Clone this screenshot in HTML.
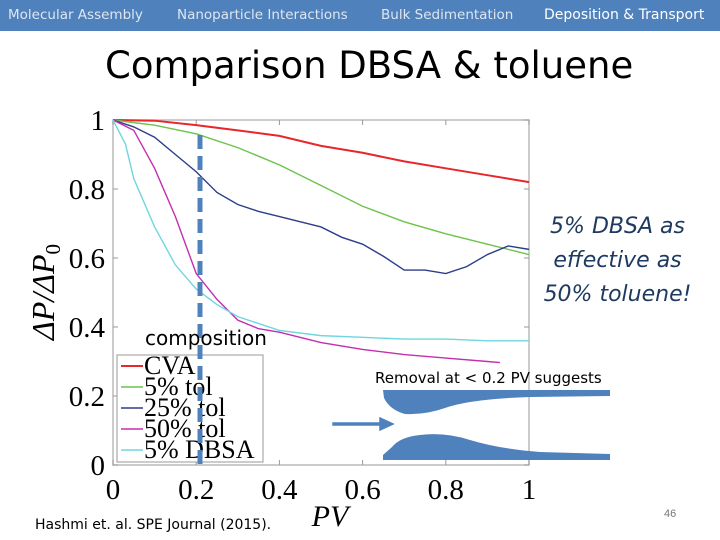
<!DOCTYPE html>
<html><head><meta charset="utf-8"><style>
body{margin:0;width:720px;height:540px;background:#fff;overflow:hidden;position:relative;font-family:"Liberation Sans",sans-serif}
.nav{position:absolute;left:0;top:0;width:720px;height:31px;background:#4f81bd}
.nav span{position:absolute;top:7px;font-size:14px;color:#dfe6f0;font-family:"DejaVu Sans","Liberation Sans",sans-serif}
</style></head><body>
<div class="nav">
<span style="left:8px;font-size:13.5px">Molecular Assembly</span>
<span style="left:177px;font-size:13.5px">Nanoparticle Interactions</span>
<span style="left:381px;font-size:13.5px">Bulk Sedimentation</span>
<span style="left:544px;color:#fff">Deposition &amp; Transport</span>
</div>
<div style="position:absolute;left:105px;top:44px;font-size:37px;color:#000;font-family:'DejaVu Sans','Liberation Sans',sans-serif">Comparison DBSA &amp; toluene</div>
<svg id="chart" width="720" height="540" style="position:absolute;left:0;top:0"></svg>
<div style="position:absolute;left:530px;top:210px;width:175px;text-align:center;font-size:22px;line-height:34px;font-style:italic;color:#1f3a60;font-family:'DejaVu Sans','Liberation Sans',sans-serif">5% DBSA as effective as 50% toluene!</div>
<div style="position:absolute;left:35px;top:517px;font-size:14px;font-family:'DejaVu Sans','Liberation Sans',sans-serif">Hashmi et. al. SPE Journal (2015).</div>
<div style="position:absolute;left:664px;top:508px;font-size:11px;color:#777">46</div>
<script>
const xTicks=[0,0.2,0.4,0.6,0.8,1];
const yTicks=[0,0.2,0.4,0.6,0.8,1];
const xTickLabels=["0","0.2","0.4","0.6","0.8","1"];
const yTickLabels=["0","0.2","0.4","0.6","0.8","1"];
const seriesNames=["CVA","5% tol","25% tol","50% tol","5% DBSA"];
const cvaX=[0,0.1,0.2,0.3,0.4,0.5,0.6,0.7,0.8,0.9,1];
const cvaY=[1,0.998,0.985,0.97,0.954,0.925,0.905,0.88,0.86,0.84,0.82];
const tol5X=[0,0.1,0.2,0.3,0.4,0.5,0.6,0.7,0.8,0.9,1];
const tol5Y=[1,0.985,0.96,0.92,0.87,0.81,0.75,0.705,0.67,0.64,0.61];
const tol25X=[0,0.05,0.1,0.15,0.2,0.25,0.3,0.35,0.4,0.5,0.55,0.6,0.65,0.7,0.75,0.8,0.85,0.9,0.95,1];
const tol25Y=[1,0.98,0.95,0.9,0.85,0.79,0.755,0.735,0.72,0.69,0.66,0.64,0.605,0.565,0.565,0.555,0.575,0.61,0.635,0.625];
const tol50X=[0,0.05,0.1,0.15,0.2,0.25,0.3,0.35,0.4,0.5,0.6,0.7,0.8,0.9,0.93];
const tol50Y=[1,0.97,0.86,0.72,0.555,0.48,0.42,0.395,0.385,0.355,0.335,0.32,0.31,0.3,0.297];
const dbsaX=[0,0.03,0.05,0.1,0.15,0.2,0.25,0.3,0.4,0.5,0.6,0.7,0.8,0.9,1];
const dbsaY=[1,0.93,0.83,0.69,0.58,0.51,0.465,0.43,0.39,0.375,0.37,0.365,0.365,0.36,0.36];
const colors=["#e8262b","#6cc34a","#2e3d8a","#c42eb0","#6fd6e0"];
const L=113,R=529,T=120,B=465;
const sx=v=>L+v*(R-L), sy=v=>B-v*(B-T);
const svg=document.getElementById('chart');
const NS="http://www.w3.org/2000/svg";
function mk(tag,at){const e=document.createElementNS(NS,tag);for(const k in at)e.setAttribute(k,at[k]);svg.appendChild(e);return e;}
let fr=mk('rect',{x:L,y:T,width:R-L,height:B-T,fill:'none',stroke:'#bbb','stroke-width':1.5});


xTicks.forEach((v,i)=>{
 mk('line',{x1:sx(v),x2:sx(v),y1:B,y2:B-5,stroke:'#999'});
 mk('line',{x1:sx(v),x2:sx(v),y1:T,y2:T+5,stroke:'#999'});
 const t=mk('text',{x:sx(v),y:B+34,'text-anchor':'middle','font-size':29,'font-family':'Liberation Serif,serif'});
 t.textContent=xTickLabels[i];
 
 
});
yTicks.forEach((v,i)=>{
 mk('line',{x1:L,x2:L+5,y1:sy(v),y2:sy(v),stroke:'#999'});
 mk('line',{x1:R,x2:R-5,y1:sy(v),y2:sy(v),stroke:'#999'});
 const t=mk('text',{x:L-8,y:sy(v)+10,'text-anchor':'end','font-size':29,'font-family':'Liberation Serif,serif'});
 t.textContent=yTickLabels[i];
 
 
});
const yl=mk('text',{x:0,y:0,transform:'translate(54,292) rotate(-90)','text-anchor':'middle','font-size':32,'font-style':'italic','font-family':'Liberation Serif,serif'});
yl.innerHTML='ΔP/ΔP<tspan font-size="21" dy="6" font-style="normal">0</tspan>';


const xl=mk('text',{x:330,y:526,'text-anchor':'middle','font-size':30,'font-style':'italic','font-family':'Liberation Serif,serif'});
xl.textContent='PV';


const sets=[[cvaX,cvaY],[tol5X,tol5Y],[tol25X,tol25Y],[tol50X,tol50Y],[dbsaX,dbsaY]];
sets.forEach((s,i)=>{
 const p=mk('polyline',{points:s[0].map((x,j)=>sx(x)+','+sy(s[1][j])).join(' '),fill:'none',stroke:colors[i],'stroke-width':i==0?2:1.4});
 
 
});
const lg=mk('rect',{x:117,y:355,width:146,height:107,fill:'#fff',stroke:'#999'});


seriesNames.forEach((n,i)=>{
 const y=366+i*21;
 mk('line',{x1:121,x2:143,y1:y,y2:y,stroke:colors[i],'stroke-width':i==0?2:1.4});
 const t=mk('text',{x:144,y:y+8,'font-size':26,'font-family':'Liberation Serif,serif'});
 t.textContent=n;
 
 
});
const dl=mk('line',{x1:200,x2:200,y1:135,y2:466,stroke:'#4f81bd','stroke-width':5,'stroke-dasharray':'14,7'});


const ct=mk('text',{x:145,y:345,'font-size':20,'font-family':'DejaVu Sans,Liberation Sans,sans-serif'});
ct.textContent='composition';


const rt=mk('text',{x:375,y:383,'font-size':15,'font-family':'DejaVu Sans,Liberation Sans,sans-serif'});
rt.textContent='Removal at < 0.2 PV suggests';


const chTop=mk('path',{d:'M383,390 L610,390 L610,396 L530,397 Q470,399 445,408 Q425,415 405,414 Q390,410 384,398 Z',fill:'#4f81bd'});


const chBot=mk('path',{d:'M383,460 L610,460 L610,454 L540,452 Q500,449 470,440 Q445,432 420,435 Q400,437 392,447 L383,455 Z',fill:'#4f81bd'});


const ar=mk('path',{d:'M333,423 L380,423 L380,418 L393,424 L380,430 L380,425 L333,425 Z',fill:'#4f81bd',stroke:'#4f81bd','stroke-width':1.5});


</script>
</body></html>
